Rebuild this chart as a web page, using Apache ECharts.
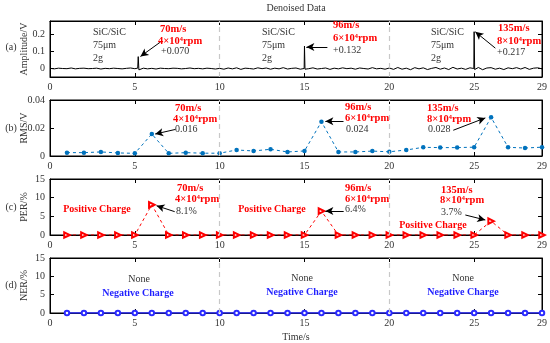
<!DOCTYPE html>
<html><head><meta charset="utf-8">
<script src="https://cdn.jsdelivr.net/npm/echarts@6/dist/echarts.min.js"></script>
<style>html,body{margin:0;padding:0;background:#fff}#c{width:550px;height:343px}</style>
</head><body><div id="c"></div>
<script>
// ---------- data ----------
const SAMPLE_STEP = 0.25; // s, sampling grid of the denoised trace
const noiseVals = [
0.001,-0.002,0.002,0.000,-0.001,0.003,-0.002,0.001,0.002,-0.001,
0.000,0.002,-0.003,0.001,-0.001,0.002,0.000,-0.002,0.001,0.003,
-0.001,0.000,0.002,-0.002,0.001,-0.003,0.002,0.000,-0.001,0.002,
0.001,-0.002,0.000,0.003,-0.001,0.001,-0.002,0.002,0.000,-0.003,
0.001,-0.004,0.003,-0.002,0.004,-0.005,0.002,0.000,-0.003,0.004,
-0.001,0.003,-0.004,0.002,-0.002,0.005,-0.003,0.001,0.003,-0.004,
0.002,-0.001,0.004,-0.003,0.000,0.003,-0.005,0.002,-0.002,0.004,
-0.001,0.002,-0.004,0.003,0.000,-0.003,0.005,-0.002,0.001,-0.004,
0.003,-0.005,0.006,-0.004,0.002,-0.007,0.005,-0.002,0.004,-0.006,
0.001,0.006,-0.004,0.003,-0.006,0.007,-0.003,0.002,-0.005,0.004,
-0.002,0.006,-0.007,0.003,0.005,-0.004,0.002,-0.006,0.004,-0.001,
0.005,-0.003,0.006,-0.005,0.002,0.004,-0.002
];
const spikeTimes = [5.17, 5.2, 5.24, 5.3, 14.98, 15.0, 15.03, 24.98, 25.0, 25.03];
const spikeVals  = [0.002, 0.070, -0.008, 0.000, 0.000, 0.132, -0.004, 0.000, 0.217, -0.006];

const timeIdx = [1,2,3,4,5,6,7,8,9,10,11,12,13,14,15,16,17,18,19,20,21,22,23,24,25,26,27,28,29];
const rmsVals = [0.0024,0.0024,0.0029,0.0022,0.0019,0.0157,0.0019,0.0024,0.0020,0.0020,
                 0.0043,0.0036,0.0048,0.0029,0.0036,0.0245,0.0029,0.0029,0.0035,0.0030,
                 0.0043,0.0062,0.0060,0.0060,0.0063,0.0276,0.0062,0.0057,0.0063];
const perVals = [0,0,0,0,0,8.1,0,0,0,0, 0,0,0,0,0,6.4,0,0,0,0, 0,0,0,0,0,3.7,0,0,0];
const nerVals = [0,0,0,0,0,0,0,0,0,0, 0,0,0,0,0,0,0,0,0,0, 0,0,0,0,0,0,0,0,0];

const xTickVals  = [5,10,15,20,25];
const xLabelVals = [0,5,10,15,20,25,29];
const ampLabelVals = [0,0.1,0.2];

// ---------- build ----------
let sig = noiseVals.map((v,i)=>[i*SAMPLE_STEP, v]);
spikeTimes.forEach(t=>{ sig = sig.filter(p => Math.abs(p[0]-t) > 0.02); });
spikeTimes.forEach((t,i)=>sig.push([t, spikeVals[i]]));
sig.sort((a,b)=>a[0]-b[0]);
const zip = (xs, ys) => xs.map((x,i)=>[x, ys[i]]);

const FONT = 'Liberation Serif';
const TXT = '#333333';
const tops = [21, 100, 179, 258];
const H = 56;

const grids = tops.map(t => ({left:50, width:492, top:t, height:H, show:true, borderColor:'#000', borderWidth:1, backgroundColor:'transparent'}));

const xAxes = [];
const yAxes = [];
const yCfg = [
  {min:-0.05, max:0.28, name:'Amplitude/V', labels:ampLabelVals},
  {min:0, max:0.04, interval:0.02, name:'RMS/V'},
  {min:0, max:15, interval:5, name:'PER/%'},
  {min:0, max:15, interval:5, name:'NER/%'}
];
for (let i=0;i<4;i++){
  xAxes.push({gridIndex:i, type:'value', min:0, max:29, position:'bottom',
    axisLine:{show:true, onZero:false, lineStyle:{color:'#000', width:1}},
    axisTick:{show:true, inside:true, length:4, customValues:xTickVals, lineStyle:{color:'#000'}},
    axisLabel:{show:true, customValues:xLabelVals, color:TXT, fontFamily:FONT, fontSize:10, margin:5},
    splitLine:{show:false},
    name: i===3 ? 'Time/s' : '', nameLocation:'middle', nameGap:19,
    nameTextStyle:{color:TXT, fontFamily:FONT, fontSize:10}
  });
  xAxes.push({gridIndex:i, type:'value', min:0, max:29, position:'top',
    axisLine:{show:true, onZero:false, lineStyle:{color:'#000'}},
    axisTick:{show:true, inside:true, length:4, customValues:xTickVals, lineStyle:{color:'#000'}},
    axisLabel:{show:false}, splitLine:{show:false}});
  const c = yCfg[i];
  const left = {gridIndex:i, type:'value', min:c.min, max:c.max, position:'left',
    axisLine:{show:true, onZero:false, lineStyle:{color:'#000'}},
    axisTick:{show:true, inside:true, length:4, lineStyle:{color:'#000'}},
    axisLabel:{color:TXT, fontFamily:FONT, fontSize:10, margin:5},
    splitLine:{show:false},
    name:c.name, nameLocation:'middle', nameGap:21, nameMoveOverlap:false,
    nameTextStyle:{color:TXT, fontFamily:FONT, fontSize:10}};
  const right = {gridIndex:i, type:'value', min:c.min, max:c.max, position:'right',
    axisLine:{show:true, onZero:false, lineStyle:{color:'#000'}},
    axisTick:{show:true, inside:true, length:4, lineStyle:{color:'#000'}},
    axisLabel:{show:false}, splitLine:{show:false}};
  if (c.labels){
    left.axisLabel.customValues = c.labels; left.axisTick.customValues = c.labels;
    right.axisTick.customValues = c.labels;
  } else { left.interval = c.interval; right.interval = c.interval; }
  yAxes.push(left, right);
}

// arrows (data coords) per panel: [tailX, tailY, headX, headY]
const arrows = [
  [[6.51,0.156,5.33,0.071],[16.35,0.127,15.11,0.127],[26.25,0.120,25.07,0.216]],
  [[7.40,0.0190,6.20,0.0157],[17.30,0.0248,16.23,0.0248],[23.77,0.0184,25.66,0.0272]],
  [[7.35,6.25,6.28,7.85],[17.31,6.43,16.23,6.43],[24.48,5.36,25.66,4.02]],
  []
];
function markLineFor(i){
  const data = [ {xAxis:10}, {xAxis:20} ];
  arrows[i].forEach(a=>{
    data.push([
      {coord:[a[0],a[1]], symbol:'none', lineStyle:{color:'#000', type:'solid', width:1}},
      {coord:[a[2],a[3]], symbol:'arrow', symbolSize:[6,8]}
    ]);
  });
  return {silent:true, symbol:'none', animation:false, label:{show:false},
    emphasis:{disabled:true},
    lineStyle:{color:'#c8c8c8', type:[5,4], width:1.2}, data:data};
}

const series = [
  {type:'line', xAxisIndex:0, yAxisIndex:0, data:sig, showSymbol:false,
   lineStyle:{color:'#000', width:1}, itemStyle:{color:'#000'}, markLine:markLineFor(0), z:3},
  {type:'line', xAxisIndex:2, yAxisIndex:2, data:zip(timeIdx, rmsVals), symbol:'circle', symbolSize:4.5,
   lineStyle:{color:'#0072BD', width:1, type:[3,3]}, itemStyle:{color:'#0072BD'}, markLine:markLineFor(1), z:3},
  {type:'line', xAxisIndex:4, yAxisIndex:4, data:zip(timeIdx, perVals), symbol:'emptyTriangle', symbolSize:5.5, symbolRotate:-90,
   lineStyle:{color:'#ff0000', width:1, type:[3,3]}, itemStyle:{color:'#ff0000', borderWidth:1}, markLine:markLineFor(2), z:3},
  {type:'line', xAxisIndex:6, yAxisIndex:6, data:zip(timeIdx, nerVals), symbol:'emptyCircle', symbolSize:4.5,
   lineStyle:{color:'#2a2aff', width:1.5}, itemStyle:{color:'#2a2aff', borderWidth:1.2}, markLine:markLineFor(3), z:3}
];

// ---------- text annotations ----------
const RED = '#ff0000', BLUE = '#1f1fff';
function t(x,y,text,opt){
  opt = opt||{};
  return {type:'text', x:x, y:y, silent:true, z:10,
    style:{text:text, fill:opt.fill||TXT, font:(opt.bold?'bold ':'')+(opt.size||10)+'px "'+FONT+'"',
      textAlign:opt.align||'left', textVerticalAlign:'middle'}};
}
const texts = [
  t(296,8,'Denoised Data',{align:'center'}),
  t(11,47,'(a)',{align:'center'}), t(11,128,'(b)',{align:'center'}),
  t(11,207,'(c)',{align:'center'}), t(11,285,'(d)',{align:'center'}),
  // panel a
  t(93,32,'SiC/SiC'), t(93,45,'75μm'), t(93,58,'2g'),
  t(262,32,'SiC/SiC'), t(262,45,'75μm'), t(262,58,'2g'),
  t(431,32,'SiC/SiC'), t(431,45,'75μm'), t(431,58,'2g'),
  t(160,29,'70m/s',{fill:RED,bold:true,size:10.5}), t(158,41,'4×10⁴rpm',{fill:RED,bold:true,size:10.5}), t(161,51,'+0.070'),
  t(333,25,'96m/s',{fill:RED,bold:true,size:10.5}), t(333,38,'6×10⁴rpm',{fill:RED,bold:true,size:10.5}), t(333,50,'+0.132'),
  t(498,28,'135m/s',{fill:RED,bold:true,size:10.5}), t(497,41,'8×10⁴rpm',{fill:RED,bold:true,size:10.5}), t(497,52,'+0.217'),
  // panel b
  t(175,108,'70m/s',{fill:RED,bold:true,size:10.5}), t(173,119,'4×10⁴rpm',{fill:RED,bold:true,size:10.5}), t(175,129.5,'0.016'),
  t(345,107,'96m/s',{fill:RED,bold:true,size:10.5}), t(345,118,'6×10⁴rpm',{fill:RED,bold:true,size:10.5}), t(346,129.5,'0.024'),
  t(427,108,'135m/s',{fill:RED,bold:true,size:10.5}), t(427,119,'8×10⁴rpm',{fill:RED,bold:true,size:10.5}), t(428,129.5,'0.028'),
  // panel c
  t(97,209,'Positive Charge',{fill:RED,bold:true,align:'center'}),
  t(272,209,'Positive Charge',{fill:RED,bold:true,align:'center'}),
  t(433,225,'Positive Charge',{fill:RED,bold:true,align:'center'}),
  t(177,188,'70m/s',{fill:RED,bold:true,size:10.5}), t(175,199,'4×10⁴rpm',{fill:RED,bold:true,size:10.5}), t(176,211,'8.1%'),
  t(345,188,'96m/s',{fill:RED,bold:true,size:10.5}), t(345,199,'6×10⁴rpm',{fill:RED,bold:true,size:10.5}), t(345,209.5,'6.4%'),
  t(441,190,'135m/s',{fill:RED,bold:true,size:10.5}), t(440,200.5,'8×10⁴rpm',{fill:RED,bold:true,size:10.5}), t(441,212,'3.7%'),
  // panel d
  t(139,279,'None',{align:'center'}), t(302,278,'None',{align:'center'}), t(463,278,'None',{align:'center'}),
  t(138,293.5,'Negative Charge',{fill:BLUE,bold:true,align:'center'}),
  t(302,292.5,'Negative Charge',{fill:BLUE,bold:true,align:'center'}),
  t(463,292.5,'Negative Charge',{fill:BLUE,bold:true,align:'center'})
];

const chart = echarts.init(document.getElementById('c'), null, {renderer:'canvas'});
chart.setOption({
  animation:false,
  backgroundColor:'#fff',
  grid:grids, xAxis:xAxes, yAxis:yAxes, series:series,
  graphic:{elements:texts}
});
</script>
</body></html>
